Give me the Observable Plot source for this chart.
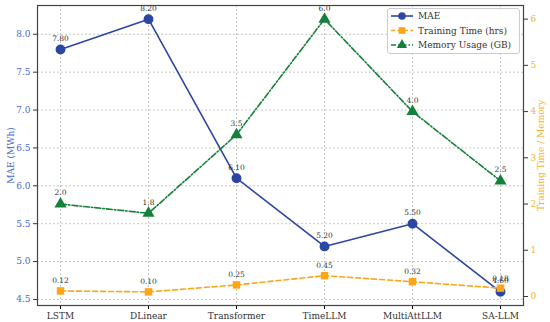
<!DOCTYPE html>
<html><head><meta charset="utf-8">
<script src="https://cdn.jsdelivr.net/npm/d3@7"></script>
<script src="https://cdn.jsdelivr.net/npm/@observablehq/plot@0.6"></script>
<style>
body{margin:0;background:#fff;}
#wrap{position:relative;width:550px;height:322px;font-family:"DejaVu Serif",serif;}
#wrap > svg{position:absolute;left:0;top:0;}
#legend{position:absolute;left:387px;top:8px;width:133px;height:46px;background:rgba(255,255,255,0.85);border:1px solid #ccc;border-radius:3px;box-sizing:border-box;}
#legend svg{position:absolute;left:-1px;top:-1px;}
</style></head><body>
<div id="wrap"><div id="legend"></div></div>
<script>
const models = ["LSTM","DLinear","Transformer","TimeLLM","MultiAttLLM","SA-LLM"];
const mae = [7.80, 8.20, 6.10, 5.20, 5.50, 4.60];
const trainTime = [0.12, 0.10, 0.25, 0.45, 0.32, 0.18];
const memory = [2.0, 1.8, 3.5, 6.0, 4.0, 2.5];
const maeTicks = [4.5,5.0,5.5,6.0,6.5,7.0,7.5,8.0];
const rightTicks = [0,1,2,3,4,5,6];

const blue = "#2a47a3", orange = "#ffa515", green = "#14803a";
const maeRows = models.map((m,i)=>({m, v: mae[i]}));
const ttRows = models.map((m,i)=>({m, v: trainTime[i]}));
const memRows = models.map((m,i)=>({m, v: memory[i]}));

const common = {
  width: 550, height: 322,
  marginLeft: 37, marginRight: 27, marginTop: 5, marginBottom: 17,
  style: {fontFamily: "DejaVu Serif, serif", fontSize: "9px", background: "transparent", overflow: "visible"}
};

const p1 = Plot.plot({
  ...common,
  x: {type: "point", domain: models, padding: 0.25},
  y: {domain: [4.42, 8.38]},
  marks: [
    Plot.gridX({stroke: "#bbb", strokeOpacity: 1, strokeDasharray: "2,2", strokeWidth: 0.8}),
    Plot.gridY(maeTicks, {stroke: "#bbb", strokeOpacity: 1, strokeDasharray: "2,2", strokeWidth: 0.8}),
    Plot.axisX({tickSize: 4, tickPadding: 3, fill: "#333", label: null, fontSize: 9}),
    Plot.axisY(maeTicks, {tickSize: 4, tickPadding: 3, tickFormat: d3.format(".1f"), fill: "#4a6bc9", stroke: "#333",
      label: "MAE (MWh)", labelAnchor: "center", labelArrow: "none", labelOffset: 30, fontSize: 9}),
    Plot.line(maeRows, {x: "m", y: "v", stroke: blue, strokeWidth: 1.6}),
    Plot.dot(maeRows, {x: "m", y: "v", fill: blue, r: 4.2, stroke: blue}),
    Plot.text(maeRows, {x: "m", y: "v", text: d => d3.format(".2f")(d.v), dy: -11, fill: "#333", fontSize: 7.5})
  ]
});

const p2 = Plot.plot({
  ...common,
  x: {type: "point", domain: models, padding: 0.25, axis: null},
  y: {domain: [-0.195, 6.295]},
  marks: [
    Plot.frame({stroke: "#444", strokeWidth: 1.2}),
    Plot.axisY(rightTicks, {anchor: "right", tickSize: 4, tickPadding: 3, fill: "#f5b236", stroke: "#333", label: null, fontSize: 9}),
    Plot.text(["Training Time / Memory"], {frameAnchor: "right", text: d => d, rotate: -90, dx: 18, fill: "#f5b236", fontSize: 9, textAnchor: "middle"}),
    Plot.line(ttRows, {x: "m", y: "v", stroke: orange, strokeWidth: 1.6, strokeDasharray: "5,3"}),
    Plot.dot(ttRows, {x: "m", y: "v", fill: orange, symbol: "square", r: 4.2}),
    Plot.text(ttRows, {x: "m", y: "v", text: d => d3.format(".2f")(d.v), dy: -10, fill: "#333", fontSize: 7.5}),
    Plot.line(memRows, {x: "m", y: "v", stroke: green, strokeWidth: 1.6, strokeDasharray: "6,2,1.5,2"}),
    Plot.dot(memRows, {x: "m", y: "v", fill: green, symbol: "triangle", r: 4.5}),
    Plot.text(memRows, {x: "m", y: "v", text: d => d3.format(".1f")(d.v), dy: -11, fill: "#333", fontSize: 7.5})
  ]
});

const wrap = document.getElementById("wrap");
wrap.insertBefore(p1, wrap.firstChild);
wrap.insertBefore(p2, document.getElementById("legend"));

const legendItems = [
  {label: "MAE", color: blue, dash: null, sym: "circle"},
  {label: "Training Time (hrs)", color: orange, dash: "4,2.5", sym: "square"},
  {label: "Memory Usage (GB)", color: green, dash: "5,2,1.5,2", sym: "triangle"}
];
const lg = d3.select("#legend").append("svg").attr("width", 133).attr("height", 46);
legendItems.forEach((it, i) => {
  const y = 8 + i * 14.5;
  const g = lg.append("g");
  g.append("line").attr("x1", 4).attr("x2", 26).attr("y1", y).attr("y2", y)
    .attr("stroke", it.color).attr("stroke-width", 1.6).attr("stroke-dasharray", it.dash);
  const sym = it.sym === "circle" ? d3.symbolCircle : it.sym === "square" ? d3.symbolSquare : d3.symbolTriangle;
  g.append("path").attr("d", d3.symbol(sym, 45)).attr("transform", `translate(15,${y})`).attr("fill", it.color);
  g.append("text").attr("x", 31).attr("y", y + 3.2).text(it.label).attr("font-size", 9).attr("fill", "#333")
    .attr("font-family", "DejaVu Serif, serif");
});
</script>
</body></html>
